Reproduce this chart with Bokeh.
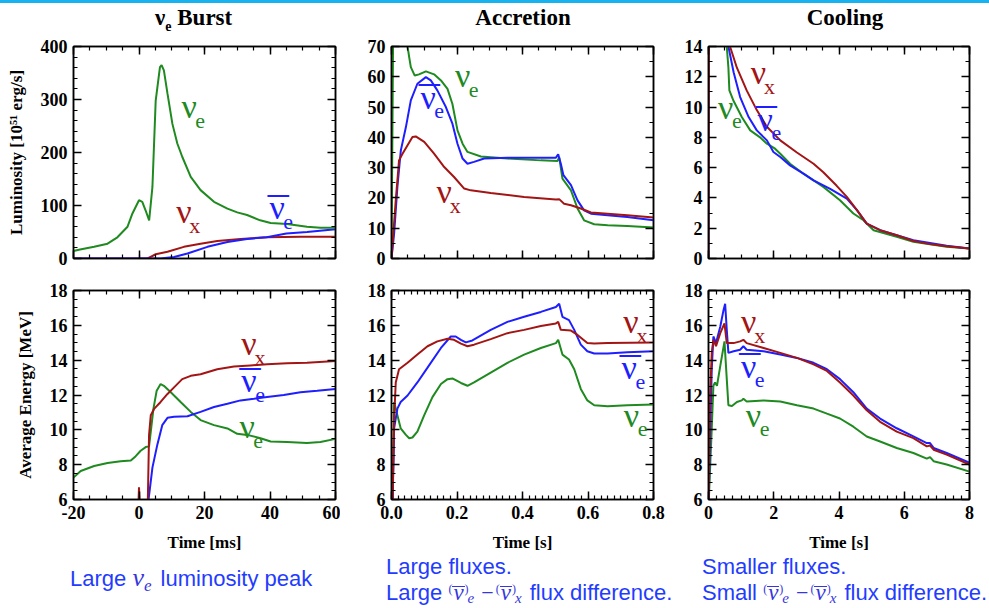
from bokeh.plotting import figure
from bokeh.models import (Range1d, LinearAxis, SingleIntervalTicker, Label, Div,
                          PrintfTickFormatter, CustomJSTickFormatter)
from bokeh.layouts import column, row
from bokeh.embed import file_html
from bokeh.resources import INLINE

NAN = float("nan")

# ---------------- data ----------------
# nu_e burst: luminosity [1e51 erg/s] vs time [ms]
burst_t_nue = [-20, -18, -13.7, -9.6, -6.6, -3.5, -2, 0, 1, 2, 3.1, 4.1, 5.1, 6.4, 6.9, 7.6, 8.7, 10.2,
               11.7, 13.2, 15.8, 18.8, 22.9, 27, 30, 33, 37, 40.2, 45.2, 51.3, 55.4, 60]
burst_L_nue = [14, 17, 22, 28, 40, 60, 85, 110, 107, 91, 72, 135, 298, 361, 365, 355, 311, 254,
               217, 192, 154, 129, 107, 94, 87, 82, 72, 67, 65, 60, 58, 58]
burst_t_nux = [-20, 2.6, 5.1, 8.7, 13.7, 18.8, 23.9, 31, 39.1, 49.3, 60]
burst_L_nux = [0, 0, 8, 12.6, 22, 28, 33, 37, 40, 41, 41]
burst_t_anue = [-20, 6.6, 10.7, 14.8, 20.9, 27, 33, 39, 45, 51.3, 60]
burst_L_anue = [0, 0, 3, 9.4, 22, 31, 37, 40, 47, 50, 55]

# accretion: luminosity vs time [s]
acc_t_nue = [0, 0.006, 0.02, 0.035, 0.049, 0.054, 0.059, 0.071, 0.084, 0.105, 0.13, 0.151, 0.171, 0.186,
             0.2015, 0.217, 0.232, 0.273, 0.354, 0.456, 0.507, 0.512, 0.522, 0.548, 0.568, 0.588, 0.619,
             0.66, 0.72, 0.8]
acc_L_nue = [0, 90, 95, 80, 70, 66.5, 63.2, 60.4, 60.8, 61.8, 60.8, 58.8, 56, 51,
             42.3, 37.9, 35.2, 33.7, 33, 32.4, 32.2, 33.5, 26.4, 22.5, 16.5, 12.6, 11.3,
             11, 10.7, 10.2]
acc_t_anue = [0, 0.008, 0.018, 0.0285, 0.044, 0.059, 0.079, 0.105, 0.12, 0.14, 0.166, 0.186, 0.2015,
              0.217, 0.232, 0.252, 0.283, 0.354, 0.456, 0.502, 0.509, 0.517, 0.525, 0.548, 0.568,
              0.588, 0.609, 0.66, 0.72, 0.8]
acc_L_anue = [0, 8.2, 23.6, 35.7, 43.4, 52.2, 57.7, 59.9, 58.8, 55.5, 50, 44.5, 37.9,
              33, 31.3, 31.9, 33, 33.3, 33.3, 33.3, 34.4, 31.3, 27.5, 24.2, 19.2,
              15.9, 14.8, 14.3, 13.7, 12.6]
acc_t_nux = [0, 0.013, 0.023, 0.0336, 0.049, 0.064, 0.074, 0.1, 0.13, 0.161, 0.191, 0.222, 0.242,
             0.303, 0.405, 0.502, 0.512, 0.527, 0.548, 0.578, 0.609, 0.66, 0.72, 0.8]
acc_L_nux = [0, 19.2, 32.4, 34.6, 37.4, 40.1, 40.3, 38.5, 34.6, 30.2, 26.9, 23.1, 22.5,
             21.6, 20.3, 19.5, 19.6, 18.1, 17.6, 16.5, 15.2, 14.8, 14.3, 13.5]

# cooling: luminosity vs time [s]
cool_t_nux = [0, 0.03, 0.1, 0.3, 0.5, 0.66, 0.87, 1.17, 1.48, 1.79, 2.2, 2.71, 3.22, 3.52, 3.93, 4.24,
              4.55, 4.85, 5.26, 5.77, 6.28, 6.79, 7.3, 8]
cool_L_nux = [0, 35, 40, 26, 19, 14, 12.6, 11.1, 9.8, 8.7, 7.8, 7.0, 6.26, 5.7, 4.8, 4.07,
              3.19, 2.3, 1.87, 1.54, 1.16, 0.95, 0.81, 0.66]
cool_t_anue = [0, 0.03, 0.1, 0.3, 0.5, 0.61, 0.77, 0.97, 1.23, 1.48, 1.79, 1.99, 2.2, 2.5, 2.91, 3.22,
               3.73, 4.24, 4.55, 4.85, 5.26, 6.28, 7.3, 8]
cool_L_anue = [0, 35, 58, 32, 30, 14, 12.3, 10.66, 9.34, 8.46, 7.8, 7.03, 6.7, 6.15, 5.6, 5.16,
               4.6, 3.96, 3.19, 2.3, 1.87, 1.2, 0.84, 0.66]
cool_t_nue = [0, 0.02, 0.3, 0.5, 0.56, 0.61, 0.64, 0.77, 1.02, 1.28, 1.58, 1.79, 2.04, 2.2, 2.5, 2.91,
              3.52, 4.03, 4.44, 4.75, 5.06, 5.77, 6.28, 7.3, 8]
cool_L_nue = [0, 70, 35, 30, 14, 12.6, 11.1, 10.4, 9.34, 8.46, 8.0, 7.58, 7.25, 6.92, 6.26, 5.6,
              4.73, 3.85, 2.97, 2.53, 1.87, 1.43, 1.1, 0.77, 0.66]

# nu_e burst: average energy [MeV] vs time [ms]
be_t_nue = [-20, -17.8, -13.7, -9.6, -5.6, -2.5, -1, 0.5, 2.05, 3.07, 3.6, 4.4, 5.4, 6.6, 7.6, 9.7, 12.7,
            15.8, 18.8, 22.9, 27, 30, 33, 37.1, 40.2, 45.2, 51.3, 55.4, 60]
be_E_nue = [7.26, 7.64, 7.92, 8.1, 8.2, 8.24, 8.49, 8.8, 9.01, 9.05, 9.9, 11.2, 12.25, 12.63, 12.53, 12.16,
            11.6, 11.03, 10.56, 10.27, 10.08, 9.77, 9.71, 9.52, 9.33, 9.3, 9.24, 9.3, 9.48]
be_t_nux = [-0.3, 0.0, 0.3, NAN, 2.6, 3.07, 3.6, 4.6, 6.6, 8.7, 10.7, 13.2, 15.8, 18.8, 23.9, 29, 34, 39.1,
            45.2, 51.3, 60]
be_E_nux = [5.0, 6.7, 5.0, NAN, 5.0, 9.7, 10.84, 11.2, 11.6, 12.06, 12.44, 12.91, 13.1, 13.19, 13.48, 13.63,
            13.7, 13.76, 13.82, 13.85, 13.95]
be_t_anue = [2.6, 4.1, 5.6, 7.1, 8.7, 10.7, 14.8, 18.8, 22.9, 27, 31, 35.1, 39.1, 44.2, 49.3, 54.4, 60]
be_E_anue = [5.5, 7.83, 9.15, 10.27, 10.69, 10.75, 10.78, 11.03, 11.31, 11.5, 11.69, 11.78, 11.88, 12.0,
             12.16, 12.25, 12.35]

# accretion: average energy vs time [s]
ae_t_nux = [0.003, 0.008, 0.013, 0.023, 0.049, 0.079, 0.11, 0.14, 0.171, 0.191, 0.212, 0.232, 0.252, 0.303,
            0.354, 0.405, 0.456, 0.502, 0.509, 0.517, 0.548, 0.568, 0.598, 0.619, 0.66, 0.8]
ae_E_nux = [5.5, 10.65, 12.72, 13.48, 13.85, 14.32, 14.8, 15.08, 15.23, 15.17, 14.95, 14.8, 14.89, 15.21,
            15.55, 15.74, 15.96, 16.11, 16.2, 15.74, 15.7, 15.45, 14.98, 14.95, 14.98, 15.02]
ae_t_anue = [0.003, 0.008, 0.018, 0.028, 0.049, 0.079, 0.11, 0.151, 0.181, 0.196, 0.212, 0.227, 0.247,
             0.303, 0.354, 0.405, 0.456, 0.502, 0.512, 0.522, 0.542, 0.558, 0.578, 0.598, 0.619, 0.66,
             0.72, 0.8]
ae_E_anue = [5.5, 10.09, 11.22, 11.6, 11.97, 12.72, 13.57, 14.7, 15.36, 15.36, 15.17, 15.02, 15.13,
             15.74, 16.2, 16.49, 16.77, 17.05, 17.24, 16.49, 16.3, 15.74, 14.89, 14.51, 14.38, 14.38,
             14.46, 14.51]
ae_t_nue = [0.003, 0.008, 0.018, 0.028, 0.044, 0.054, 0.064, 0.079, 0.1, 0.125, 0.151, 0.171, 0.186, 0.212,
            0.232, 0.252, 0.303, 0.354, 0.405, 0.456, 0.502, 0.509, 0.522, 0.542, 0.558, 0.578, 0.598,
            0.619, 0.66, 0.72, 0.8]
ae_E_nue = [5.5, 11.6, 10.84, 10.09, 9.71, 9.52, 9.56, 9.9, 10.84, 11.88, 12.63, 12.91, 12.95, 12.69,
            12.53, 12.72, 13.29, 13.85, 14.32, 14.7, 14.98, 15.17, 14.32, 14.04, 13.48, 12.35, 11.69,
            11.41, 11.35, 11.41, 11.46]

# cooling: average energy vs time [s]
ce_t_anue = [0.0, 0.05, 0.1, 0.15, 0.23, 0.36, 0.46, 0.51, 0.56, 0.61, 0.77, 0.97, 1.07, 1.17, 1.69, 2.2,
             2.71, 3.22, 3.63, 4.03, 4.44, 4.85, 5.26, 5.77, 6.28, 6.69, 6.79, 6.9, 7.3, 8]
ce_E_anue = [5.5, 9.7, 13.48, 15.36, 14.98, 15.92, 16.87, 17.24, 15.74, 14.42, 14.51, 14.6, 14.8, 14.6,
             14.51, 14.32, 14.13, 13.85, 13.48, 12.91, 12.16, 11.22, 10.65, 10.09, 9.62, 9.24, 9.24,
             8.96, 8.67, 8.11]
ce_t_nux = [0.0, 0.05, 0.1, 0.15, 0.23, 0.36, 0.49, 0.56, 0.77, 0.97, 1.07, 1.17, 1.69, 2.2, 2.71, 3.22,
            3.63, 4.03, 4.44, 4.85, 5.26, 5.77, 6.28, 6.69, 6.79, 6.9, 7.3, 8]
ce_E_nux = [5.5, 12.0, 14.42, 15.17, 14.8, 15.55, 16.11, 14.98, 14.98, 15.08, 15.17, 14.98, 14.7, 14.42,
            14.13, 13.76, 13.38, 12.72, 11.97, 11.12, 10.46, 9.9, 9.52, 9.05, 9.1, 8.86, 8.58, 8.01]
ce_t_nue = [0.0, 0.05, 0.1, 0.15, 0.2, 0.26, 0.36, 0.49, 0.56, 0.61, 0.72, 0.87, 1.02, 1.07, 1.17, 1.69,
            2.2, 2.71, 3.22, 3.63, 4.03, 4.44, 4.85, 5.26, 5.77, 6.28, 6.69, 6.79, 6.9, 7.3, 8]
ce_E_nue = [5.5, 7.83, 10.09, 12.53, 12.72, 12.53, 13.66, 15.08, 12.91, 11.41, 11.37, 11.6, 11.69, 11.78,
            11.63, 11.69, 11.63, 11.41, 11.22, 10.93, 10.65, 10.18, 9.62, 9.33, 8.96, 8.67, 8.35, 8.43,
            8.2, 8.01, 7.6]

panel_titles = ["Burst", "Accretion", "Cooling"]
ylabel_top = "Luminosity [10\u2075\u00b9 erg/s]"
ylabel_bottom = "Average Energy [MeV]"
xlabels = ["Time [ms]", "Time [s]", "Time [s]"]
captions = ["Large", "luminosity peak", "Large fluxes.", "Large", "Smaller fluxes.", "Small",
            "flux difference."]

# ---------------- style ----------------
GREEN = "#1f8a1f"
RED = "#a31515"
BLUE = "#1e1eff"
CAP = "#1f3cff"
MATH = "#3636e0"
SERIF = "Liberation Serif"
SANS = "Liberation Sans"


def style_axis(ax, ticker, fmt=None, labels=True, label=None):
    ax.ticker = ticker
    ax.major_tick_in = 8
    ax.major_tick_out = 0
    ax.minor_tick_in = 4
    ax.minor_tick_out = 0
    ax.axis_line_width = 1.5
    ax.major_tick_line_width = 1.5
    ax.minor_tick_line_width = 1.2
    ax.axis_line_color = "black"
    ax.major_tick_line_color = "black"
    ax.minor_tick_line_color = "black"
    ax.major_label_text_font = SERIF
    ax.major_label_text_font_style = "bold"
    ax.major_label_text_color = "black"
    if labels:
        ax.formatter = fmt
        ax.major_label_text_font_size = "18px"
        ax.major_label_standoff = 6
    else:
        ax.formatter = CustomJSTickFormatter(code="return ''")
        ax.major_label_text_font_size = "1px"
        ax.major_label_standoff = 0
    if label:
        ax.axis_label = label
        ax.axis_label_text_font = SERIF
        ax.axis_label_text_font_style = "bold"
        ax.axis_label_text_font_size = "17px"
        ax.axis_label_text_color = "black"
        ax.axis_label_standoff = 12


def make_fig(width, height, bl, br, bt, bb, xr, yr, xint, xminor, yint, yminor, xfmt,
             xlab_show, xlabel=None, ylabel=None):
    p = figure(width=width, height=height, x_range=Range1d(*xr), y_range=Range1d(*yr),
               output_backend="svg", toolbar_location=None,
               min_border_left=bl, min_border_right=br, min_border_top=bt, min_border_bottom=bb,
               background_fill_color="white", border_fill_color="white")
    p.grid.visible = False
    p.outline_line_color = "black"
    p.outline_line_width = 1.5
    style_axis(p.xaxis[0], SingleIntervalTicker(interval=xint, num_minor_ticks=xminor), xfmt,
               labels=xlab_show, label=xlabel)
    style_axis(p.yaxis[0], SingleIntervalTicker(interval=yint, num_minor_ticks=yminor),
               PrintfTickFormatter(format="%d"), labels=True, label=ylabel)
    if xlabel:
        p.xaxis[0].axis_label_standoff = 11
    top = LinearAxis()
    style_axis(top, SingleIntervalTicker(interval=xint, num_minor_ticks=xminor), labels=False)
    p.add_layout(top, "above")
    right = LinearAxis()
    style_axis(right, SingleIntervalTicker(interval=yint, num_minor_ticks=yminor), labels=False)
    p.add_layout(right, "right")
    return p


def curve(p, x, y, color):
    p.line(x, y, line_color=color, line_width=2)


def nu_label(p, x, y, sub, color, bar=False):
    p.add_layout(Label(x=x, y=y, text="\u03bd", text_font=SERIF, text_font_size="34px",
                       text_color=color, text_align="center", text_baseline="middle"))
    p.add_layout(Label(x=x, y=y, x_offset=11, y_offset=-14, text=sub, text_font=SERIF,
                       text_font_size="22px", text_color=color, text_align="center",
                       text_baseline="middle"))
    if bar:
        p.add_layout(Label(x=x, y=y, x_offset=1, y_offset=-5, text="\u00af", text_font=SERIF,
                           text_font_size="42px", text_color=color, text_align="center",
                           text_baseline="middle"))


# ---- HTML text helpers ----
K = {SERIF: 0.8375, SANS: 0.8465}  # baseline offset from top for line-height 1


def line(html, left, baseline, font, size, color, weight="normal"):
    top = baseline - K[font] * size
    return (f'<span style="position:absolute;left:{left}px;top:{top:.1f}px;'
            f"font-family:'{font}';font-size:{size}px;line-height:1;color:{color};"
            f'font-weight:{weight};white-space:nowrap;">{html}</span>')


def centered(html, center, baseline, font, size, color, weight="normal"):
    top = baseline - K[font] * size
    return (f'<span style="position:absolute;left:{center}px;top:{top:.1f}px;transform:translateX(-50%);'
            f"font-family:'{font}';font-size:{size}px;line-height:1;color:{color};"
            f'font-weight:{weight};white-space:nowrap;">{html}</span>')


def span(text, size, style="normal", valign=0, extra=""):
    return (f"<span style=\"font-family:'{SERIF}';color:{MATH};font-size:{size}px;line-height:0.7;"
            f'font-style:{style};vertical-align:{valign}px;{extra}">{text}</span>')


def nubar():
    return (f"<span style=\"display:inline-block;font-family:'{SERIF}';color:{MATH};font-size:23px;"
            f'line-height:0.55;font-style:italic;border-top:1.5px solid {MATH};padding:0 1px;">\u03bd</span>')


def flux_group(sub):
    return (span("(", 12, valign=7) + nubar() + span(")", 12, valign=7)
            + span(sub, 15, style="italic", valign=-3, extra="margin-left:-1px;margin-right:2px;"))


math_html = (flux_group("e") + span("\u2212", 22, extra="margin-left:5px;margin-right:2px;")
             + flux_group("x"))

# ---------------- figures ----------------
TITLE_H = 30
TOP_H, BOT_H = 237, 284
ms_fmt = PrintfTickFormatter(format="%d")
s1_fmt = PrintfTickFormatter(format="%.1f")

p1 = make_fig(340, TOP_H, 73, 5, 13, 12, (-20, 60), (0, 400), 20, 4, 100, 5, ms_fmt, False,
              ylabel=ylabel_top)
p2 = make_fig(340, TOP_H, 51, 27, 13, 12, (0, 0.8), (0, 70), 0.2, 4, 10, 2, s1_fmt, False)
p3 = make_fig(309, TOP_H, 28, 20, 13, 12, (0, 8), (0, 14), 2, 4, 2, 2, ms_fmt, False)
p4 = make_fig(340, BOT_H, 73, 5, 20, 52, (-20, 60), (6, 18), 20, 4, 2, 4, ms_fmt, True,
              xlabel=xlabels[0], ylabel=ylabel_bottom)
p5 = make_fig(340, BOT_H, 51, 27, 20, 52, (0, 0.8), (6, 18), 0.2, 10, 2, 4, s1_fmt, True,
              xlabel=xlabels[1])
p6 = make_fig(309, BOT_H, 28, 20, 20, 52, (0, 8), (6, 18), 2, 8, 2, 4, ms_fmt, True,
              xlabel=xlabels[2])

# curves
curve(p1, burst_t_nux, burst_L_nux, RED)
curve(p1, burst_t_anue, burst_L_anue, BLUE)
curve(p1, burst_t_nue, burst_L_nue, GREEN)
curve(p2, acc_t_nue, acc_L_nue, GREEN)
curve(p2, acc_t_anue, acc_L_anue, BLUE)
curve(p2, acc_t_nux, acc_L_nux, RED)
curve(p3, cool_t_nue, cool_L_nue, GREEN)
curve(p3, cool_t_anue, cool_L_anue, BLUE)
curve(p3, cool_t_nux, cool_L_nux, RED)
curve(p4, be_t_nue, be_E_nue, GREEN)
curve(p4, be_t_anue, be_E_anue, BLUE)
curve(p4, be_t_nux, be_E_nux, RED)
curve(p5, ae_t_nue, ae_E_nue, GREEN)
curve(p5, ae_t_anue, ae_E_anue, BLUE)
curve(p5, ae_t_nux, ae_E_nux, RED)
curve(p6, ce_t_nue, ce_E_nue, GREEN)
curve(p6, ce_t_anue, ce_E_anue, BLUE)
curve(p6, ce_t_nux, ce_E_nux, RED)

# curve labels
nu_label(p1, 15.3, 286, "e", GREEN)
nu_label(p1, 13.7, 88, "x", RED)
nu_label(p1, 42.2, 96, "e", BLUE, bar=True)
nu_label(p2, 0.217, 60.4, "e", GREEN)
nu_label(p2, 0.112, 53.3, "e", BLUE, bar=True)
nu_label(p2, 0.161, 22, "x", RED)
nu_label(p3, 1.53, 12.3, "x", RED)
nu_label(p3, 1.74, 9.2, "e", BLUE, bar=True)
nu_label(p3, 0.53, 10.0, "e", GREEN)
nu_label(p4, 33.6, 14.98, "x", RED)
nu_label(p4, 33.6, 12.82, "e", BLUE, bar=True)
nu_label(p4, 33.0, 10.18, "e", GREEN)
nu_label(p5, 0.731, 16.2, "x", RED)
nu_label(p5, 0.726, 13.57, "e", BLUE, bar=True)
nu_label(p5, 0.733, 10.84, "e", GREEN)
nu_label(p6, 1.23, 16.2, "x", RED)
nu_label(p6, 1.23, 13.66, "e", BLUE, bar=True)
nu_label(p6, 1.38, 10.84, "e", GREEN)

# ---------------- titles (HTML) ----------------
burst_html = ('\u03bd<span style="font-size:14px;line-height:0.7;vertical-align:-6px;">e</span> '
              + panel_titles[0])
t1 = line(burst_html, 155, 22, SERIF, 23, "black", weight="bold")
t2 = centered(panel_titles[1], 183, 22, SERIF, 23, "black", weight="bold")
t3 = centered(panel_titles[2], 165, 22, SERIF, 23, "black", weight="bold")

# ---------------- captions (HTML) ----------------
CAP_H = 54
c1 = line(captions[0] + " " + span("\u03bd", 26, style="italic")
          + span("e", 17, style="italic", valign=-5, extra="margin-right:3px;")
          + " " + captions[1], 70, 33, SANS, 22, CAP)
c2 = (line(captions[2], 46, 21, SANS, 22, CAP)
      + line(captions[3] + " " + math_html + " " + captions[6], 46, 47, SANS, 22, CAP))
c3 = (line(captions[4], 22, 21, SANS, 22, CAP)
      + line(captions[5] + " " + math_html + " " + captions[6], 22, 47, SANS, 22, CAP))


def box(w, h, inner):
    return f'<div style="position:relative;width:{w}px;height:{h}px;margin:0;padding:0;">{inner}</div>'


def div(inner, w, h):
    return Div(text=box(w, h, inner), width=w, height=h, margin=0, styles={"overflow": "visible"})


bar = Div(text="", width=989, height=3, margin=0, styles={"background-color": "#18b2ee"})

layout = column(
    bar,
    row(div(t1, 340, TITLE_H), div(t2, 340, TITLE_H), div(t3, 309, TITLE_H)),
    row(p1, p2, p3),
    row(p4, p5, p6),
    row(div(c1, 340, CAP_H), div(c2, 340, CAP_H), div(c3, 309, CAP_H)),
)
open("out.html", "w").write(file_html(layout, INLINE))
